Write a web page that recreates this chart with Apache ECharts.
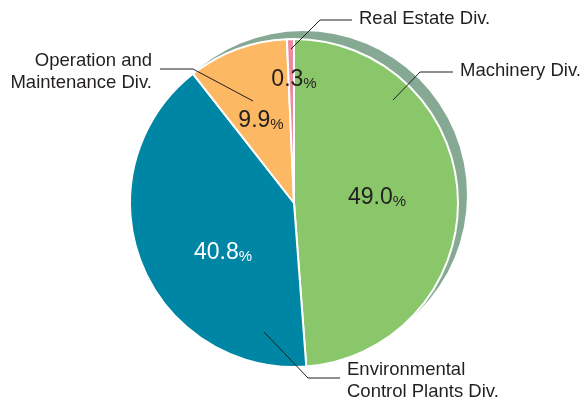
<!DOCTYPE html>
<html><head><meta charset="utf-8">
<script src="https://cdn.jsdelivr.net/npm/echarts@6/dist/echarts.min.js"></script>
<style>html,body{margin:0;padding:0;background:#fff}#c{width:585px;height:400px}</style>
</head><body><div id="c"></div>
<script>
// Data
const divisions = ['Machinery Div.', 'Environmental\nControl Plants Div.', 'Operation and\nMaintenance Div.', 'Real Estate Div.'];
const shares = [49.0, 40.8, 9.9, 0.3];

// Styles / layout
const colors = ['#89c76a', '#0086a5', '#fcb862', '#ee8a9d'];
const pctWhite = [false, true, false, false];
const CENTER = [294, 203], RADIUS = 164, MIN_ANGLE = 2.5;
const pctPos = [[377, 196], [223, 251], [261, 119], [294, 78]];
const namePos = [
  { x: 460, y: 71, align: 'left', line: [[393, 100], [420, 72], [453, 72]] },
  { x: 347, y: 381, align: 'left', line: [[264, 332], [308, 378], [340, 378]] },
  { x: 152, y: 72, align: 'right', line: [[253, 101], [193, 69], [160, 69]] },
  { x: 359, y: 19, align: 'left', line: [[291, 49], [320, 20], [352, 20]] }
];
const FONT = "'Liberation Sans', Arial, Helvetica, sans-serif";
const INK = '#231f20';

const chart = echarts.init(document.getElementById('c'), null, { renderer: 'canvas' });
const items = shares.map((v, i) => ({ name: divisions[i], value: v, itemStyle: { color: colors[i] } }));

chart.setOption({
  animation: false,
  graphic: namePos.map(n => ({
    type: 'polyline', silent: true, z: 100,
    shape: { points: n.line },
    style: { stroke: INK, lineWidth: 1, fill: null }
  })),
  series: [
    {
      // offset backdrop rim
      type: 'pie', silent: true, center: [CENTER[0] + 9, CENTER[1] - 8], radius: RADIUS,
      data: [{ value: 1, itemStyle: { color: '#86a994' } }],
      label: { show: false }, labelLine: { show: false }, emphasis: { disabled: true }
    },
    {
      type: 'pie', silent: true, center: CENTER, radius: RADIUS, startAngle: 90, clockwise: true,
      minAngle: MIN_ANGLE,
      data: items,
      itemStyle: { borderColor: '#ffffff', borderWidth: 2 },
      emphasis: { disabled: true },
      label: {
        show: true, position: 'inside',
        formatter: p => pctWhite[p.dataIndex]
          ? '{wn|' + p.value.toFixed(1) + '}{wp|%}'
          : '{n|' + p.value.toFixed(1) + '}{p|%}',
        rich: {
          n: { fontFamily: FONT, fontSize: 23, color: INK, verticalAlign: 'bottom', lineHeight: 26 },
          p: { fontFamily: FONT, fontSize: 15, color: INK, verticalAlign: 'bottom', lineHeight: 22 },
          wn: { fontFamily: FONT, fontSize: 23, color: '#ffffff', verticalAlign: 'bottom', lineHeight: 26 },
          wp: { fontFamily: FONT, fontSize: 15, color: '#ffffff', verticalAlign: 'bottom', lineHeight: 22 }
        }
      },
      labelLine: { show: false },
      labelLayout: p => ({ x: pctPos[p.dataIndex][0], y: pctPos[p.dataIndex][1], align: 'center', verticalAlign: 'middle' })
    },
    {
      type: 'pie', silent: true, center: CENTER, radius: RADIUS, startAngle: 90, clockwise: true,
      minAngle: MIN_ANGLE,
      data: shares.map((v, i) => ({ name: divisions[i], value: v, itemStyle: { color: 'rgba(0,0,0,0)' } })),
      emphasis: { disabled: true },
      label: {
        show: true, position: 'outside', formatter: '{b}', overflow: 'none',
        fontFamily: FONT, fontSize: 18.5, lineHeight: 22, color: INK
      },
      labelLine: { show: false },
      labelLayout: p => {
        const n = namePos[p.dataIndex];
        return { x: n.x, y: n.y, align: n.align, verticalAlign: 'middle' };
      }
    }
  ]
});
</script>
</body></html>
